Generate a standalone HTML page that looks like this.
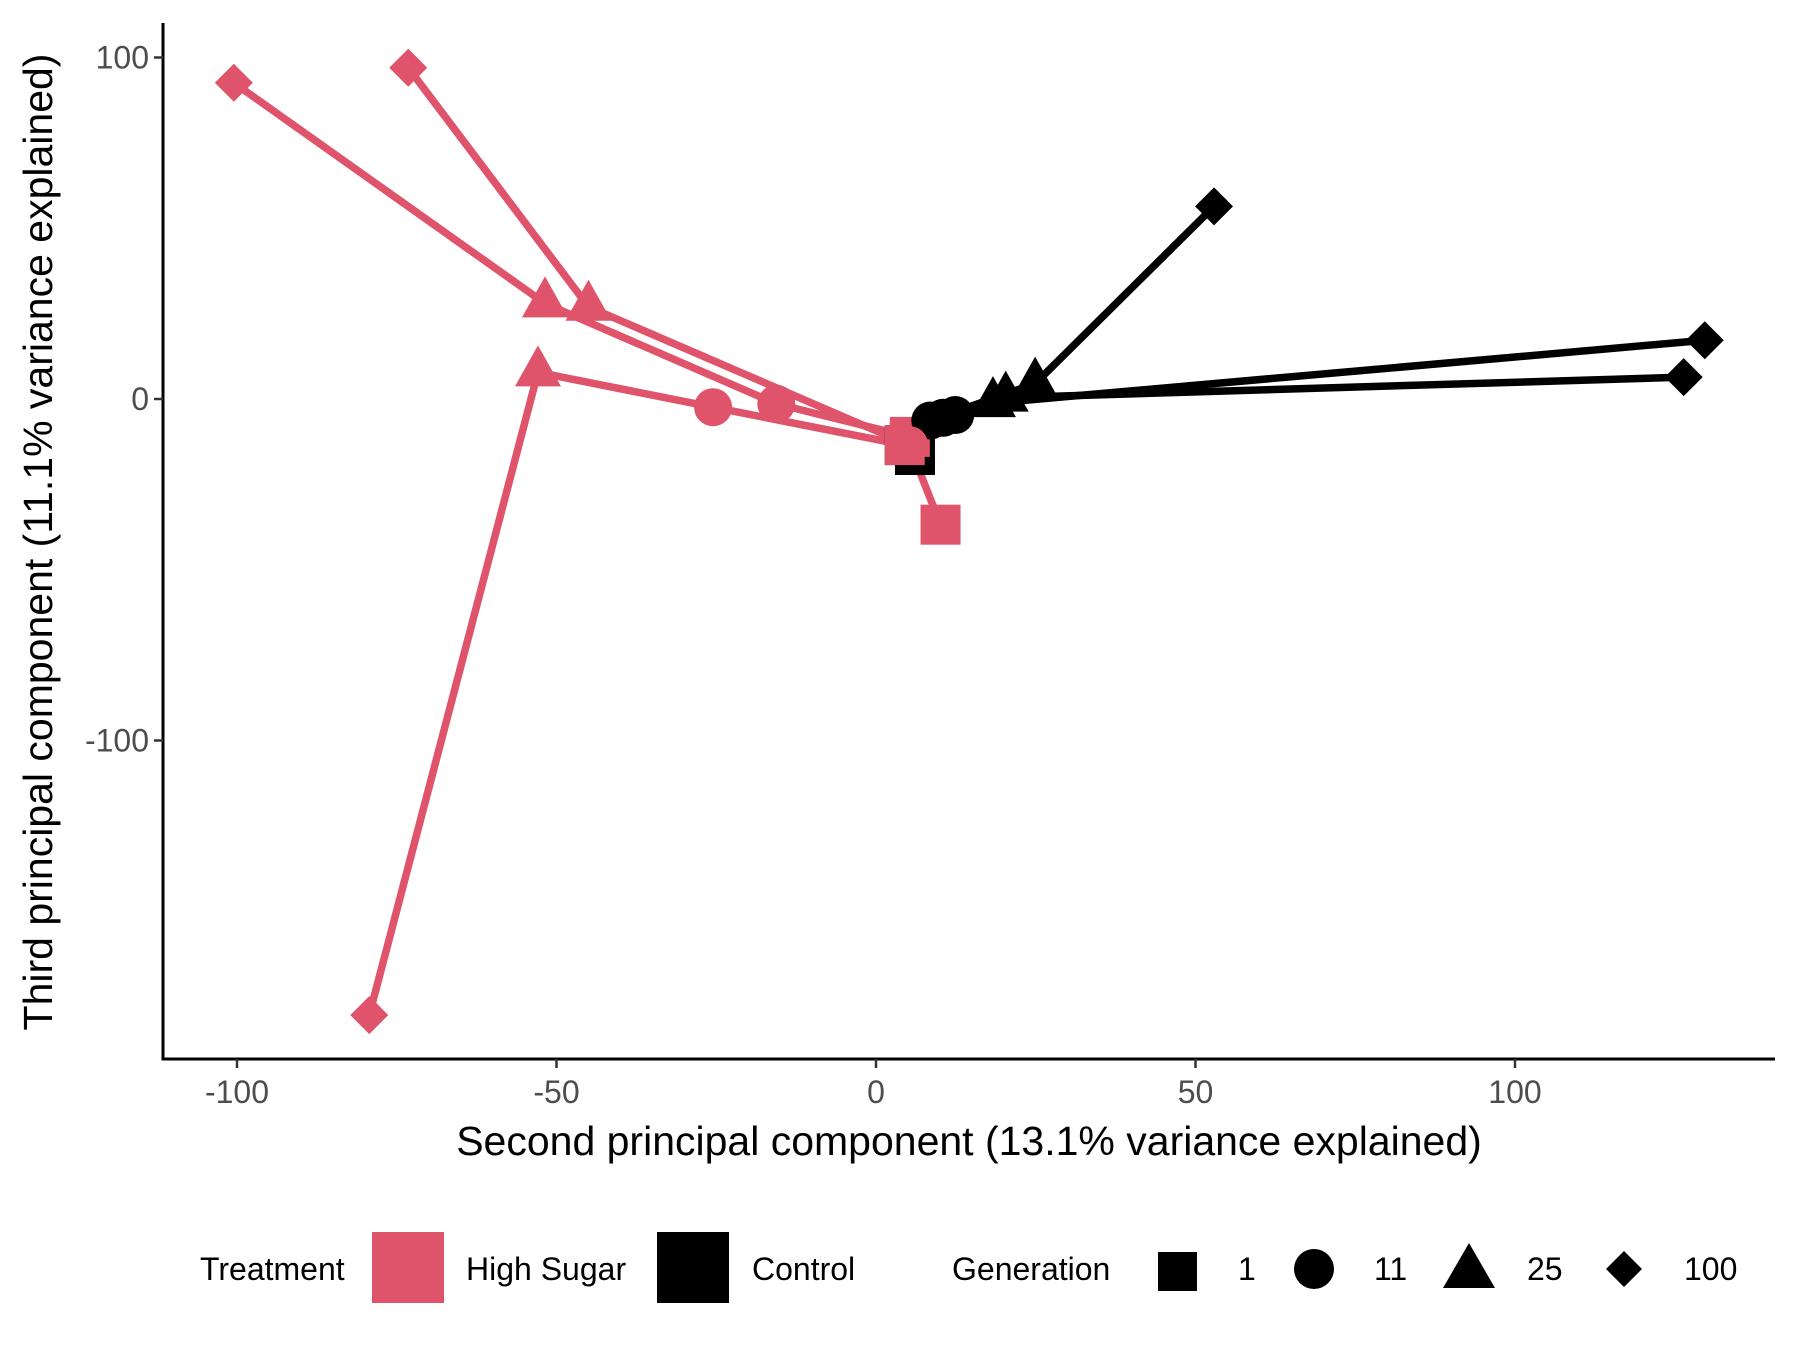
<!DOCTYPE html>
<html><head><meta charset="utf-8"><style>
html,body{margin:0;padding:0;background:#fff}
svg{display:block;font-family:"Liberation Sans",sans-serif}
</style></head><body>
<svg id="chart" width="1800" height="1350" viewBox="0 0 1800 1350" xmlns="http://www.w3.org/2000/svg">
<g id="plot"></g>
<g id="axes"></g>
<text x="41" y="542" transform="rotate(-90 41 542)" text-anchor="middle" dominant-baseline="middle" font-size="41" fill="#000">Third principal component (11.1% variance explained)</text>
<text x="969" y="1155" text-anchor="middle" font-size="41" fill="#000">Second principal component (13.1% variance explained)</text>
<g id="legend">
<text x="200" y="1280" font-size="32">Treatment</text>
<rect x="372" y="1232" width="72" height="71" fill="#DF536B"/>
<text x="466" y="1280" font-size="32">High Sugar</text>
<rect x="657" y="1232" width="72" height="71" fill="#000"/>
<text x="752" y="1280" font-size="32">Control</text>
<text x="952" y="1280" font-size="32">Generation</text>
<rect x="1158" y="1252" width="39" height="39" fill="#000"/>
<text x="1238" y="1280" font-size="32">1</text>
<circle cx="1314" cy="1269" r="20" fill="#000"/>
<text x="1374" y="1280" font-size="32">11</text>
<polygon points="1469,1243 1495,1288 1443,1288" fill="#000"/>
<text x="1527" y="1280" font-size="32">25</text>
<polygon points="1624,1251 1642,1269 1624,1287 1606,1269" fill="#000"/>
<text x="1684" y="1280" font-size="32">100</text>
</g>
</svg>
<script>
const xTicks = [-100, -50, 0, 50, 100];
const yTicks = [-100, 0, 100];
const generations = [1, 11, 25, 100];
// High sugar replicates: x (PC2) and y (PC3) per generation
const hsAx = [10.1, 5.2, -45, -73.2];   const hsAy = [-36.8, -13.5, 27, 97];
const hsBx = [5.3, -15.6, -51.8, -100.5]; const hsBy = [-11.1, -1.4, 28, 92.6];
const hsCx = [4.5, -25.5, -52.9, -79.3];  const hsCy = [-13.5, -2.4, 7.8, -180.4];
// Control replicates
const ctAx = [4.5, 8.5, 24.9, 52.9];   const ctAy = [-13.5, -6.3, 4.5, 56.4];
const ctBx = [6.1, 10.5, 18.3, 129.7]; const ctBy = [-16.4, -5.5, -1.2, 17.2];
const ctCx = [5.3, 12.4, 20.3, 126.4]; const ctCy = [-12.5, -4.7, 0.4, 6.4];

const X0 = 163, X1 = 1775, Y0 = 23, Y1 = 1059;
function sx(v){ return 876 + v * 6.39; }
function sy(v){ return 399 - v * 3.415; }
const NS = "http://www.w3.org/2000/svg";
function mk(tag, attrs, parent){ const e = document.createElementNS(NS, tag); for (const k in attrs) e.setAttribute(k, attrs[k]); parent.appendChild(e); return e; }
const plot = document.getElementById('plot');
const axes = document.getElementById('axes');

function marker(gen, cx, cy, color, parent){
  let e;
  if (gen === 1) e = mk('rect', {x: cx-20, y: cy-20, width: 40, height: 40, fill: color}, parent);
  else if (gen === 11) e = mk('circle', {cx: cx, cy: cy, r: 19, fill: color}, parent);
  else if (gen === 25) e = mk('polygon', {points: `${cx},${cy-27} ${cx+23},${cy+14} ${cx-23},${cy+14}`, fill: color}, parent);
  else e = mk('polygon', {points: `${cx},${cy-19} ${cx+19},${cy} ${cx},${cy+19} ${cx-19},${cy}`, fill: color}, parent);
  return e;
}
const series = [
  ['control-a', ctAx, ctAy, '#000'], ['control-b', ctBx, ctBy, '#000'], ['control-c', ctCx, ctCy, '#000'],
  ['high-sugar-a', hsAx, hsAy, '#DF536B'], ['high-sugar-b', hsBx, hsBy, '#DF536B'], ['high-sugar-c', hsCx, hsCy, '#DF536B']
];
series.forEach(s => {
  const [name, xs, ys, col] = s;
  const pts = xs.map((v, i) => sx(v) + ',' + sy(ys[i])).join(' ');
  const line = mk('polyline', {points: pts, fill: 'none', stroke: col, 'stroke-width': 7.5, 'stroke-linejoin': 'round'}, plot);
  
  
});
generations.forEach((g, i) => {
  series.forEach(s => {
    const [name, xs, ys, col] = s;
    const m = marker(g, sx(xs[i]), sy(ys[i]), col, plot);
    
    
  });
});
// axes
const ya = mk('line', {x1: X0, y1: Y0, x2: X0, y2: Y1, stroke: '#000', 'stroke-width': 3}, axes);


const xa = mk('line', {x1: X0 - 1.5, y1: Y1, x2: X1, y2: Y1, stroke: '#000', 'stroke-width': 3}, axes);


xTicks.forEach(t => {
  const tk = mk('line', {x1: sx(t), y1: Y1, x2: sx(t), y2: Y1 + 9, stroke: '#333', 'stroke-width': 2.5}, axes);
  
  
  const lb = mk('text', {x: sx(t), y: Y1 + 44, 'text-anchor': 'middle', 'font-size': 32, fill: '#4d4d4d'}, axes);
  lb.textContent = t;
  
  
});
yTicks.forEach(t => {
  const tk = mk('line', {x1: X0 - 9, y1: sy(t), x2: X0, y2: sy(t), stroke: '#333', 'stroke-width': 2.5}, axes);
  
  
  const lb = mk('text', {x: X0 - 14, y: sy(t) + 11, 'text-anchor': 'end', 'font-size': 32, fill: '#4d4d4d'}, axes);
  lb.textContent = t;
  
  
});
</script>
</body></html>
